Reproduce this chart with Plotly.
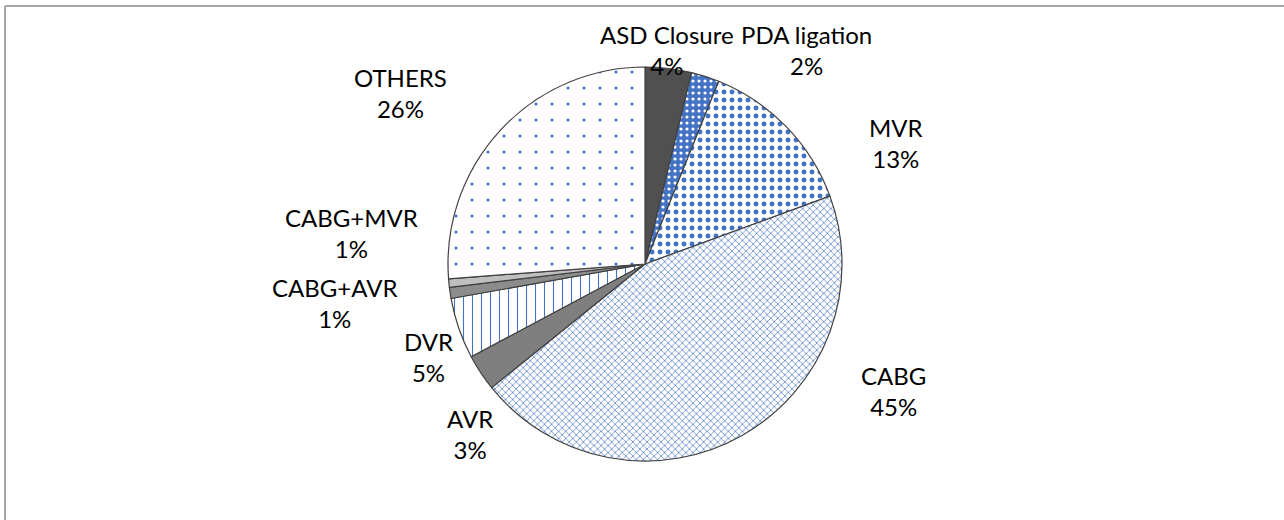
import plotly.graph_objects as go

categories = ["ASD Closure", "PDA ligation", "MVR", "CABG", "AVR", "DVR",
              "CABG+AVR", "CABG+MVR", "OTHERS"]
values = [3.8, 2.3, 13.3, 44.8, 3.0, 5.0, 0.9, 0.7, 26.2]
pct_labels = ["4%", "2%", "13%", "45%", "3%", "5%", "1%", "1%", "26%"]

BLUE = "#4472C4"
fill_bg = ["#505050", BLUE, "white", "white", "#7F7F7F", "white", "#8C8C8C", "#BFBFBF", "white"]
fill_fg = ["#505050", "white", BLUE, BLUE, "#7F7F7F", BLUE, "#8C8C8C", "#BFBFBF", BLUE]
shapes_p = ["", ".", ".", "x", "", "|", "", "", "."]
sizes_p = [8, 6, 8, 5, 8, 9, 8, 8, 16]
solid_p = [0.3, 0.22, 0.3, 0.25, 0.3, 0.12, 0.3, 0.3, 0.03]

W, H = 1284, 520
cx, cy, r = 645, 264, 197

fig = go.Figure(go.Pie(
    labels=categories, values=values, sort=False, direction="clockwise", rotation=0,
    textinfo="none", hoverinfo="label+percent",
    domain=dict(x=[(cx - r) / W, (cx + r) / W], y=[(H - cy - r) / H, (H - cy + r) / H]),
    marker=dict(
        colors=fill_bg,
        line=dict(color="#404040", width=1.2),
        pattern=dict(shape=shapes_p, fgcolor=fill_fg, bgcolor=fill_bg,
                     size=sizes_p, solidity=solid_p, fillmode="replace"),
    ),
    showlegend=False,
))

# label block centres (pixels)
label_pos = [(667, 50), (806, 50), (896, 143), (893, 391), (470, 434),
             (428, 357), (335, 303), (351, 233), (400, 93)]

annotations = []
for name, pct, (px, py) in zip(categories, pct_labels, label_pos):
    annotations.append(dict(
        text=f"{name}<br>{pct}", x=px / W, y=1 - py / H,
        xref="paper", yref="paper",
        xanchor="center", yanchor="middle", showarrow=False, align="center",
        font=dict(family="Lato", size=24, color="black"),
    ))

border = dict(color="#A6A6A6", width=2)
fig.update_layout(
    width=W, height=H, margin=dict(l=0, r=0, t=0, b=0),
    paper_bgcolor="white", plot_bgcolor="white",
    annotations=annotations,
    shapes=[
        dict(type="line", xref="paper", yref="paper", x0=5 / W, x1=1.0,
             y0=1 - 6 / H, y1=1 - 6 / H, line=border, layer="below"),
        dict(type="line", xref="paper", yref="paper", x0=5 / W, x1=5 / W,
             y0=0, y1=1 - 6 / H, line=border, layer="below"),
    ],
)

fig.write_html("out.html", config={"displayModeBar": False},
               post_script="document.body.style.margin='0';")
